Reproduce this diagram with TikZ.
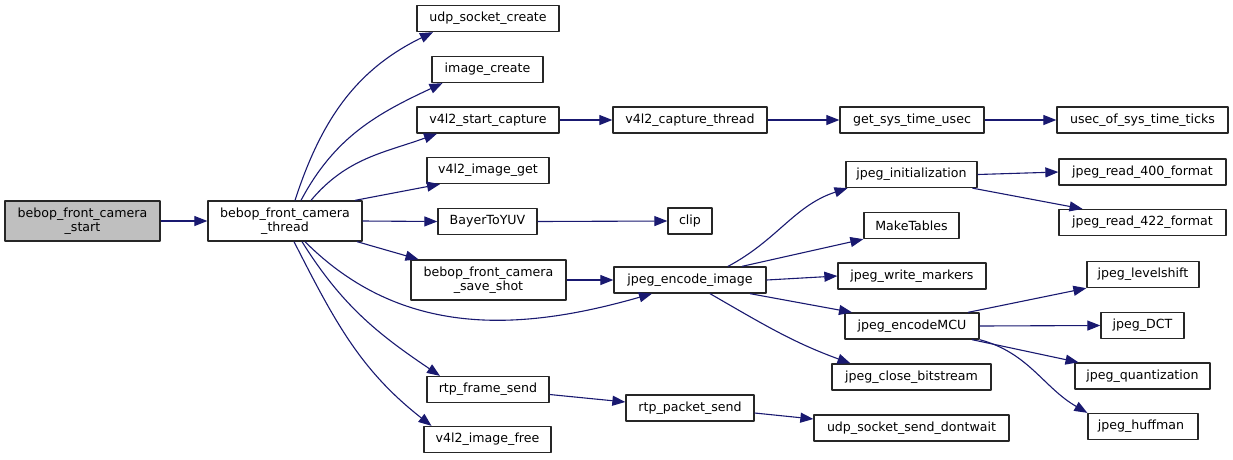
\documentclass[tikz,border=0pt]{standalone}
\usepackage{fontspec}
\setmainfont{DejaVu Sans}
\usetikzlibrary{arrows.meta}
\definecolor{callblue}{HTML}{191970}
\definecolor{rootgray}{HTML}{BFBFBF}

\begin{document}
\begin{tikzpicture}[x=1pt, y=-1pt, line join=bevel]

	\pgfmathsetmacro{\h}{26}
	\pgfmathsetmacro{\hh}{40}

	\tikzset{
	  fn_box/.style  = {draw=black!85, line width=1.3pt, fill=white, inner sep=0pt, align=center,
	                    minimum height=\h pt, font=\fontsize{12.6}{14.5}\selectfont},
	  fn_root/.style = {fn_box, fill=rootgray, minimum height=\hh pt},
	  fn_two/.style  = {fn_box, minimum height=\hh pt},
	  call/.style    = {draw=callblue, line width=1.1pt, -{Triangle[length=13pt,width=10pt]}}
	}

	\useasboundingbox (0,0) rectangle (1233,459);

	\node[fn_root, minimum width=155pt] (camstart)  at (82.5,221) {bebop\_front\_camera\\\_start};
	\node[fn_two,  minimum width=154pt] (camthread) at (285,221)  {bebop\_front\_camera\\\_thread};
	\node[fn_two,  minimum width=155pt] (saveshot)  at (488.5,280) {bebop\_front\_camera\\\_save\_shot};

	\foreach \id/\x/\y/\w/\txt in {
	    udpcreate/488/18.5/142/{udp\_socket\_create},
	    imgcreate/487.5/69.5/111/{image\_create},
	    startcap/488/120/142/{v4l2\_start\_capture},
	    imgget/488/170.5/122/{v4l2\_image\_get},
	    bayer/487.5/221.5/99/{BayerToYUV},
	    framesend/488/389.5/122/{rtp\_frame\_send},
	    imgfree/487.5/439.5/127/{v4l2\_image\_free},
	    capthread/690/120/154/{v4l2\_capture\_thread},
	    clip/690/221/44/{clip},
	    encimg/690/280/152/{jpeg\_encode\_image},
	    packetsend/690/408/128/{rtp\_packet\_send},
	    getsys/912/120/144/{get\_sys\_time\_usec},
	    jpeginit/911.5/174.5/131/{jpeg\_initialization},
	    maketables/911.5/225.5/95/{MakeTables},
	    writemarkers/912/276/148/{jpeg\_write\_markers},
	    encmcu/912/326/134/{jpeg\_encodeMCU},
	    closebits/911.5/377/159/{jpeg\_close\_bitstream},
	    sockdontwait/911.5/428/195/{udp\_socket\_send\_dontwait},
	    usecticks/1142.5/120/171/{usec\_of\_sys\_time\_ticks},
	    read400/1142.5/172/167/{jpeg\_read\_400\_format},
	    read422/1142.5/222.5/167/{jpeg\_read\_422\_format},
	    levelshift/1143/274.5/112/{jpeg\_levelshift},
	    dct/1142.5/325.5/83/{jpeg\_DCT},
	    quant/1142.5/376/135/{jpeg\_quantization},
	    huffman/1143/426.5/110/{jpeg\_huffman}
	}{
	    \node[fn_box, minimum width=\w pt] (\id) at (\x,\y) {\txt};
	}

	\draw[call] (camstart.east) -- (camthread.west);
	\draw[call] ([xshift=10pt]camthread.north) to[out=72,in=206] ([xshift=-55pt]udpcreate.south);
	\draw[call] ([xshift=16pt]camthread.north) to[out=62,in=205] ([xshift=-45pt]imgcreate.south);
	\draw[call] ([xshift=26pt]camthread.north) to[out=50,in=200] ([xshift=-51pt]startcap.south);
	\draw[call] ([xshift=70pt]camthread.north) -- ([xshift=-48pt]imgget.south);
	\draw[call] (camthread.east) -- (bayer.west);
	\draw[call] ([xshift=72pt]camthread.south) -- ([xshift=-70pt]saveshot.north);
	\draw[call] ([xshift=20pt]camthread.south) to[out=-45,in=196] ([xshift=-38pt]encimg.south);
	\draw[call] ([xshift=17pt]camthread.south) to[out=-58,in=146] ([xshift=-48pt]framesend.north);
	\draw[call] ([xshift=9pt]camthread.south) to[out=-63,in=142] ([xshift=-56pt]imgfree.north);

	\draw[call] (startcap.east) -- (capthread.west);
	\draw[call] (capthread.east) -- (getsys.west);
	\draw[call] (getsys.east) -- (usecticks.west);
	\draw[call] (bayer.east) -- (clip.west);
	\draw[call] (saveshot.east) -- (encimg.west);

	\draw[call] ([xshift=38pt]encimg.north) to[out=28,in=198] ([xshift=-64pt]jpeginit.south);
	\draw[call] ([xshift=52pt]encimg.north) -- (maketables.south west);
	\draw[call] (encimg.east) -- (writemarkers.west);
	\draw[call] ([xshift=60pt]encimg.south) -- ([xshift=-60pt]encmcu.north);
	\draw[call] ([xshift=20pt]encimg.south) to[out=-30,in=160] ([xshift=-61pt]closebits.north);

	\draw[call] (jpeginit.east) -- (read400.west);
	\draw[call] ([xshift=61pt]jpeginit.south) -- ([xshift=-60pt]read422.north);

	\draw[call] ([xshift=56pt]encmcu.north) -- (levelshift.south west);
	\draw[call] (encmcu.east) -- (dct.west);
	\draw[call] ([xshift=60pt]encmcu.south) -- ([xshift=-64pt]quant.north);
	\draw[call] (encmcu.south east) to[out=-15,in=150] (huffman.north west);

	\draw[call] ([yshift=-5pt]framesend.east) -- ([yshift=6pt]packetsend.west);
	\draw[call] ([yshift=-5pt]packetsend.east) -- ([yshift=9pt]sockdontwait.west);

\end{tikzpicture}
\end{document}
